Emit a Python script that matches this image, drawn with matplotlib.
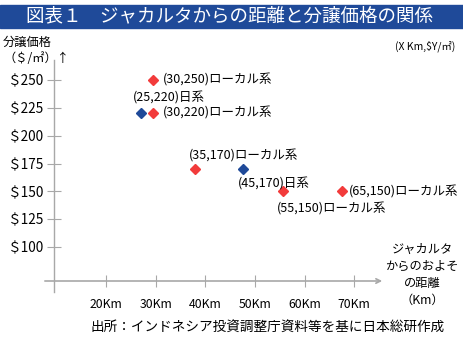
import matplotlib.pyplot as plt
from matplotlib.patches import Rectangle

plt.rcParams['font.family'] = ['Noto Sans CJK JP', 'DejaVu Sans']

# 図表のデータ
groups = ['local', 'local', 'japan', 'local', 'japan', 'local', 'local']
# ラベルの値 (X Km, $Y/m2)
lab_x = [30, 30, 25, 35, 45, 55, 65]
lab_y = [250, 220, 220, 170, 170, 150, 150]
# 図上の位置(目盛から読んだ距離)
pos_x = [29.5, 29.5, 27.1, 37.9, 47.6, 55.7, 67.6]
pos_y = [250, 220, 220, 170, 170, 150, 150]
suffix = ['ローカル系', 'ローカル系', '日系', 'ローカル系', '日系', 'ローカル系', 'ローカル系']
# ラベルのずらし (pixel)
off = [(10, 0), (10, 0), (-8, 15), (-6, 13), (-5, -15), (-6, -18), (7, -1)]

xticks = [20, 30, 40, 50, 60, 70]
xticklabels = ['20Km', '30Km', '40Km', '50Km', '60Km', '70Km']
yticks = [100, 125, 150, 175, 200, 225, 250]
yticklabels = ['＄' + str(v) for v in yticks]

colors = {'local': '#F23B3B', 'japan': '#1F4A99'}
gray = '#A8A8A8'

W, H = 463, 339
fig = plt.figure(figsize=(W / 100, H / 100), dpi=100)

# タイトル帯
fig.patches.append(Rectangle((0, 1 - 28 / H), 1, 23 / H, transform=fig.transFigure,
                             color='#1F4A99', zorder=0))
fig.text(230 / W, 1 - 16.5 / H, '図表１　ジャカルタからの距離と分譲価格の関係',
         color='white', fontsize=13.3, ha='center', va='center')

fig.text(3 / W, 1 - 42 / H, '分譲価格', fontsize=8.8, ha='left', va='center')
fig.text(3 / W, 1 - 58 / H, '（＄/㎡）↑', fontsize=8.8, ha='left', va='center')
fig.text(455 / W, 1 - 46 / H, '(X Km,$Y/㎡)', fontsize=7.5, ha='right', va='center')

x0, x1 = 54, 381
y0, y1 = 281, 60
ax = fig.add_axes([x0 / W, 1 - y0 / H, (x1 - x0) / W, (y0 - y1) / H])
ax.set_xlim(9.5, 75.4)
ax.set_ylim(69.5, 268)
for s in ax.spines.values():
    s.set_visible(False)

# 軸線
ax.plot([9.5, 9.5], [59.6, 268], color=gray, lw=1, clip_on=False)
ax.annotate('', xy=(76.2, 69.5), xytext=(7.1, 69.5),
            arrowprops=dict(arrowstyle='->', color=gray, lw=1.2,
                            mutation_scale=8), annotation_clip=False)

ax.set_xticks(xticks)
ax.set_xticklabels(xticklabels, fontsize=8.8)
ax.set_yticks(yticks)
ax.set_yticklabels(yticklabels, fontsize=9.8)
ax.tick_params(axis='x', direction='inout', length=9, color=gray, pad=8)
ax.tick_params(axis='y', direction='inout', length=10, color=gray, pad=2)

for i in range(len(pos_x)):
    ax.plot(pos_x[i], pos_y[i], 'D', color=colors[groups[i]], ms=5.2,
            mec=colors[groups[i]], clip_on=False)
    txt = '(%d,%d)%s' % (lab_x[i], lab_y[i], suffix[i])
    ax.annotate(txt, (pos_x[i], pos_y[i]), xytext=off[i],
                textcoords='offset pixels', fontsize=9, ha='left', va='center')

fig.text(422 / W, 1 - 275 / H, 'ジャカルタ\nからのおよそ\nの距離\n（Km）',
         fontsize=8.8, ha='center', va='center', linespacing=1.4)

fig.text(90 / W, 1 - 328 / H, '出所：インドネシア投資調整庁資料等を基に日本総研作成',
         fontsize=9.8, ha='left', va='center')

fig.savefig('out.png', dpi=100)
